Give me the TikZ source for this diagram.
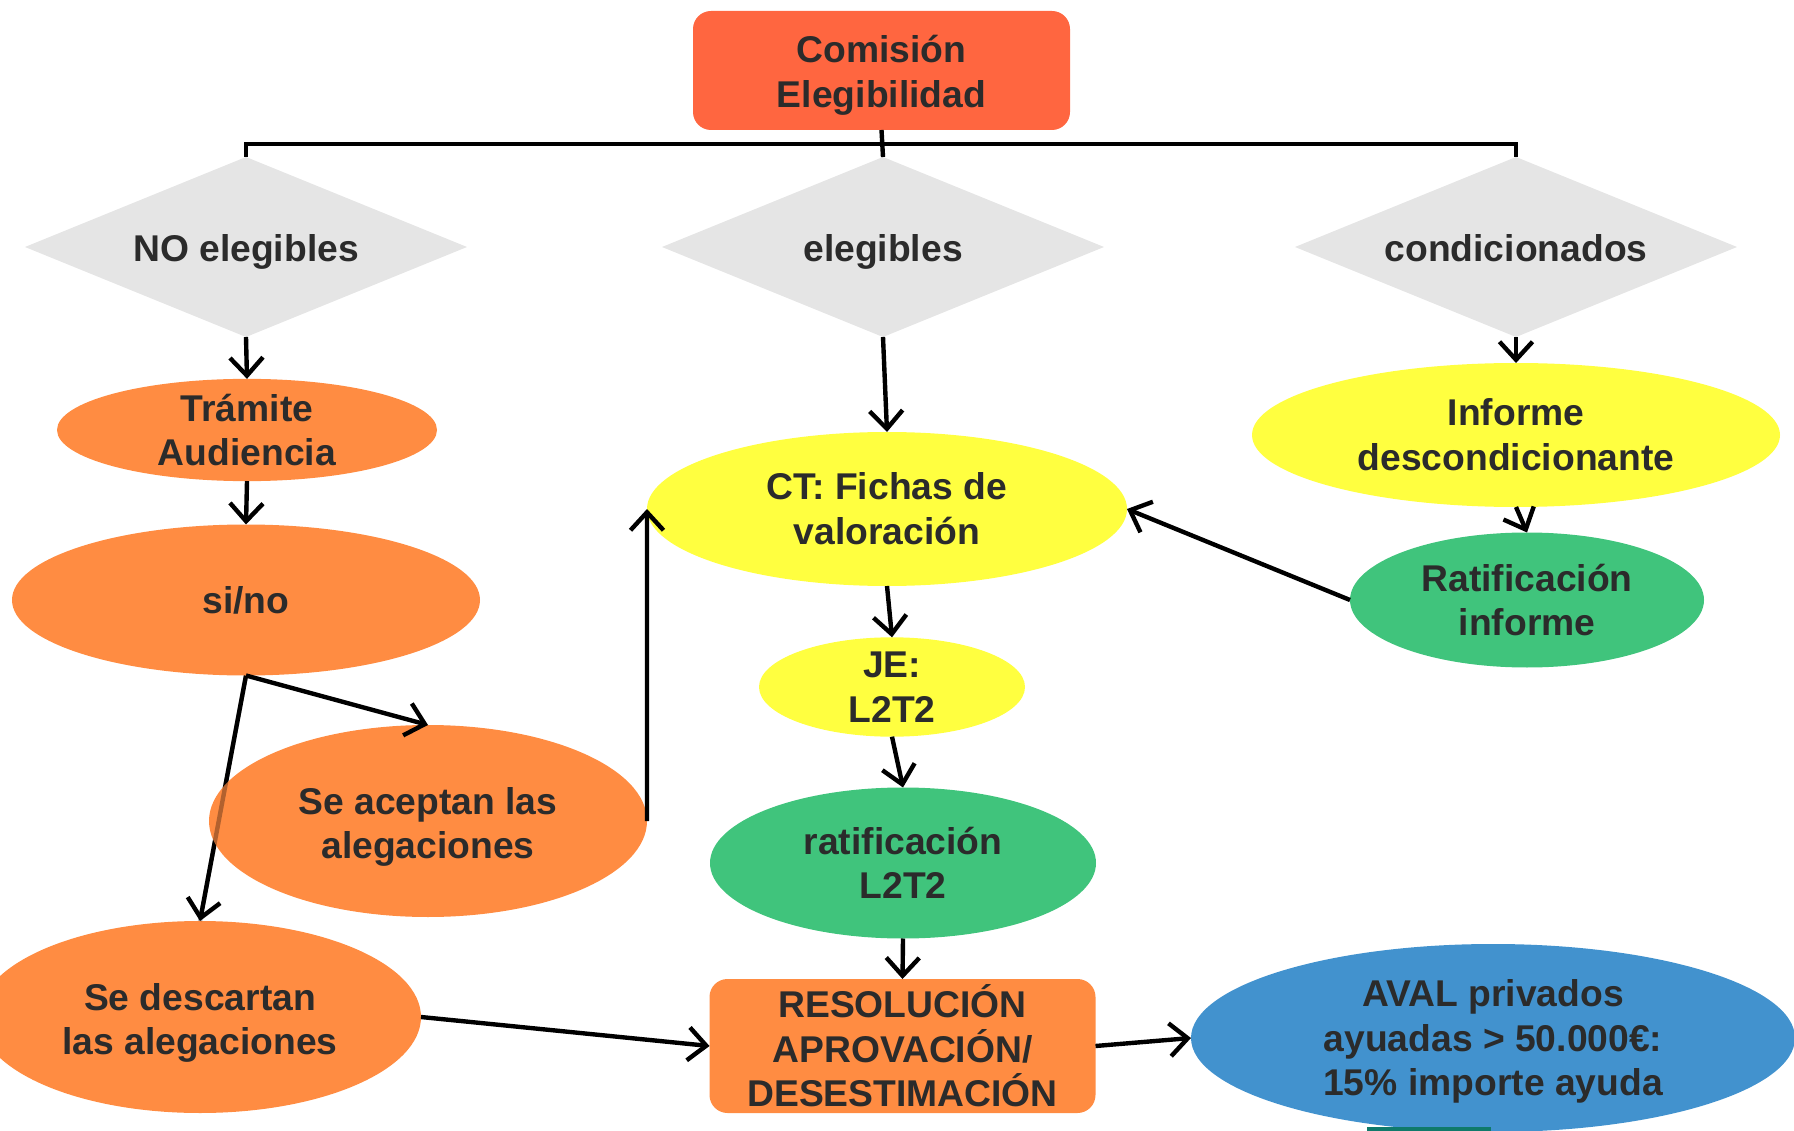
\documentclass[tikz,border=0pt]{standalone}
\usepackage{fontspec}
\setmainfont{Liberation Sans}
\usetikzlibrary{shapes.geometric,arrows.meta}
\definecolor{txt}{HTML}{2B2B2B}
\definecolor{comred}{HTML}{FF6640}
\definecolor{orng}{HTML}{FF8C42}
\definecolor{yell}{HTML}{FFFF40}
\definecolor{grn}{HTML}{40C47C}
\definecolor{blu}{HTML}{4292CE}
\definecolor{gry}{HTML}{E5E5E5}
\definecolor{tealbar}{HTML}{0F7A6B}
\pgfdeclarelayer{bg}
\pgfsetlayers{bg,main}
\begin{document}
\begin{tikzpicture}[x=0.1mm,y=-0.1mm,
  every node/.style={font=\fontsize{10.6}{12.7}\selectfont\bfseries, text=txt, align=center, inner sep=0pt, outer sep=0pt},
  ell/.style={ellipse, draw=none},
  dia/.style={diamond, fill=gry, aspect=1, minimum width=44.2mm, minimum height=18mm},
  box/.style={rectangle, rounded corners=1.8mm},
  lbl/.style={fill=none},
  conn/.style={line width=1.25pt, -{Straight Barb[length=1.8mm,width=3.3mm,line width=1.25pt]}},
  plain/.style={line width=1.25pt}]
\useasboundingbox (0,0) rectangle (1794,1131);
\clip (0,0) rectangle (1794,1131);

% top box
\node[box, fill=comred, minimum width=37.7mm, minimum height=11.9mm] (com) at (881.5,70.5) {};
\node[lbl, yshift=-0.5mm] (comT) at (com) {Comisión\\Elegibilidad};

% diamonds
\node[dia] (noel) at (246,247) {};
\node[dia] (el) at (883,247) {};
\node[dia] (cond) at (1516,247) {};
\node[lbl, anchor=base] (noelT) at (246,262) {NO elegibles};
\node[lbl, anchor=base] (elT) at (883,262) {elegibles};
\node[lbl, anchor=base] (condT) at (1516,262) {condicionados};
\coordinate (bus) at (881,144);

% left column
\node[ell, fill=orng, minimum width=38mm, minimum height=9.5mm] (tram) at (247,430) {Trámite\\Audiencia};
\node[ell, fill=orng, minimum width=46.8mm, minimum height=15.1mm] (sino) at (246,600) {si/no};
\node[ell, fill=orng, minimum width=43.8mm, minimum height=19.2mm] (acep) at (428,821) {};
\node[ell, fill=orng, minimum width=44.2mm, minimum height=19.2mm] (desc) at (200,1017) {};
\node[lbl, yshift=-0.6mm] (descT) at (desc) {Se descartan\\las alegaciones};

% middle column
\node[ell, fill=yell, minimum width=48mm, minimum height=15.4mm] (ct) at (887,509) {CT: Fichas de\\valoración};
\node[ell, fill=yell, minimum width=26.6mm, minimum height=9.5mm] (je) at (892,687) {JE:\\L2T2};
\node[ell, fill=grn, minimum width=38.6mm, minimum height=15.1mm] (ratl) at (903,863) {ratificación\\L2T2};
\node[box, fill=orng, minimum width=38.6mm, minimum height=13.4mm] (res) at (902.5,1046) {RESOLUCIÓN\\APROVACIÓN/\\DESESTIMACIÓN};

% right column
\node[ell, fill=yell, minimum width=52.8mm, minimum height=14.4mm] (inf) at (1516,435) {Informe\\descondicionante};
\node[ell, fill=grn, minimum width=35.4mm, minimum height=13.5mm] (rat) at (1527,600) {Ratificación\\informe};
\node[ell, fill=blu, minimum width=60.4mm, minimum height=18.8mm] (aval) at (1493,1038) {};
\node[lbl, yshift=-0.35mm] (avalT) at (aval) {AVAL privados\\ayuadas > 50.000€:\\15\% importe ayuda};

\fill[tealbar] (1367,1127) rectangle (1491,1131);

% bracket
\draw[plain] (com.south) -- (el.north);
\draw[plain] (noel.north) -- (noel.north |- bus) -- (cond.north |- bus) -- (cond.north);

% connectors
\draw[conn] (noel.south) -- (tram.north);
\draw[conn] (tram.south) -- (sino.north);
\draw[conn] (sino.south) -- (acep.north);
\begin{pgfonlayer}{bg}
\draw[conn] (sino.south) -- (desc.north);
\end{pgfonlayer}
\draw[line width=1.25pt, draw opacity=0.3] (sino.south) -- (desc.north);
\node[lbl, yshift=-0.6mm] (acepT) at (acep) {Se aceptan las\\alegaciones};
\draw[conn] (acep.east) -- (ct.west);
\draw[conn] (el.south) -- (ct.north);
\draw[conn] (cond.south) -- (inf.north);
\draw[conn] (inf.south) -- (rat.north);
\draw[conn] (rat.west) -- (ct.east);
\draw[conn] (ct.south) -- (je.north);
\draw[conn] (je.south) -- (ratl.north);
\draw[conn] (ratl.south) -- (res.north);
\draw[conn] (desc.east) -- (res.west);
\draw[conn] (res.east) -- (aval.west);
\end{tikzpicture}
\end{document}
